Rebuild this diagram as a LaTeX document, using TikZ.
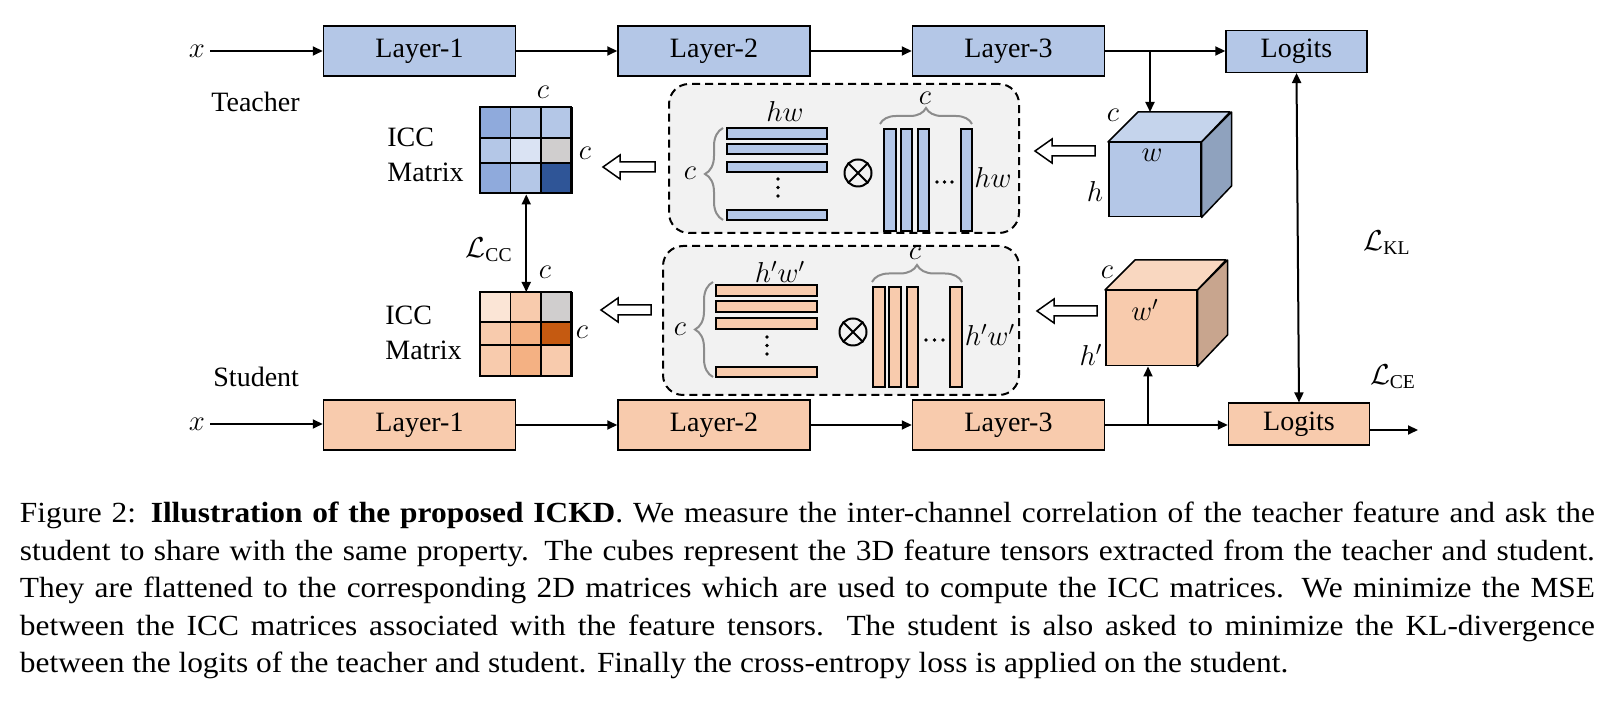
\documentclass[tikz,border=0pt]{standalone}
\usepackage{fontspec}
\setmainfont{Liberation Serif}
\newfontfamily\capfamily[FakeStretch=1.075]{Liberation Serif}
\usetikzlibrary{arrows.meta,decorations.pathreplacing,calc}
\definecolor{tblue}{HTML}{B4C7E7}
\definecolor{tdark}{HTML}{8FAADC}
\definecolor{tlight}{HTML}{DAE3F3}
\definecolor{tdeep}{HTML}{2F5597}
\definecolor{ttop}{HTML}{C5D4EC}
\definecolor{tside}{HTML}{8FA2BE}
\definecolor{cgray}{HTML}{D0CECE}
\definecolor{sor}{HTML}{F8CBAD}
\definecolor{slight}{HTML}{FBE5D6}
\definecolor{smid}{HTML}{F4B183}
\definecolor{sdeep}{HTML}{C55A11}
\definecolor{stop}{HTML}{F9D7C0}
\definecolor{sside}{HTML}{C8A58E}
\definecolor{boxfill}{HTML}{F2F2F2}
\definecolor{bracegray}{HTML}{8C8C8C}
\newcommand\dfont{\fontsize{14}{17.5}\selectfont}
\newcommand\cfont{\capfamily\fontsize{14.6}{18.75}\selectfont}
\newcommand\harrow[3]{%
  \draw[line width=0.75pt, fill=white, line join=miter]
    (#1,#2) -- (#1+17,#2-12) -- (#1+17,#2-5) -- (#3,#2-5) -- (#3,#2+5)
    -- (#1+17,#2+5) -- (#1+17,#2+12) -- cycle;}
\begin{document}
\begin{tikzpicture}[x=0.5pt,y=-0.5pt,
  arr/.style={line width=1pt, -{Triangle[length=5pt,width=4.5pt]}},
  arrtwo/.style={line width=1pt, {Triangle[length=5pt,width=4.5pt]}-{Triangle[length=5pt,width=4.5pt]}},
  layer/.style={draw, line width=0.75pt, minimum width=96pt, minimum height=25pt, inner sep=0pt, font=\dfont},
  logit/.style={draw, line width=0.75pt, minimum width=70.5pt, minimum height=20.8pt, inner sep=0pt, font=\dfont},
  lbl/.style={font=\dfont, inner sep=0pt},
  dbox/.style={draw, fill=boxfill, line width=1pt, dash pattern=on 4pt off 2.5pt, rounded corners=10pt, inner sep=0pt, anchor=north west},
  bar/.style={draw, line width=0.75pt},
  cell/.style={draw, line width=0.75pt},
  brc/.style={draw=bracegray, line width=1pt, decorate},
  otimes/.style={circle, draw, line width=1pt, minimum size=13.5pt, inner sep=0pt},
  cube/.style={draw, line width=0.75pt, inner sep=0pt, anchor=north west, minimum width=46pt, minimum height=37pt},
  capline/.style={anchor=base west, inner sep=0pt, font=\cfont}
]
\useasboundingbox (0,0) rectangle (1612,704);

% ---------------- Teacher row ----------------
\node[lbl] (xT) at (197,51) {$x$};
\node[layer, fill=tblue] (T1) at (419.5,51) {Layer-1};
\node[layer, fill=tblue] (T2) at (714,51) {Layer-2};
\node[layer, fill=tblue] (T3) at (1008.5,51) {Layer-3};
\node[logit, fill=tblue] (TL) at (1296.5,51.5) {Logits};
\node[lbl, anchor=base west] (teach) at (211,112) {Teacher};
\draw[arr] (xT) ++(13,0) -- (T1.west);
\draw[arr] (T1) -- (T2);
\draw[arr] (T2) -- (T3);
\draw[arr] (T3.east) -- (TL.west |- T3.east);

% ---------------- Student row ----------------
\node[lbl] (xS) at (197,424) {$x$};
\node[layer, fill=sor] (S1) at (419.5,425) {Layer-1};
\node[layer, fill=sor] (S2) at (714,425) {Layer-2};
\node[layer, fill=sor] (S3) at (1008.5,425) {Layer-3};
\node[logit, fill=sor] (SL) at (1299,424) {Logits};
\node[lbl, anchor=base west] (stud) at (213,387) {Student};
\draw[arr] (xS) ++(13,0) -- (S1.west |- xS);
\draw[arr] (S1) -- (S2);
\draw[arr] (S2) -- (S3);
\draw[arr] (S3.east) -- (SL.west |- S3.east);
\coordinate (out) at (1418,430);
\draw[arr] (SL.east |- out) -- (out);

% KL arrow
\draw[arrtwo] (TL.south) -- (SL.north);
\node[lbl] (LKL) at (1387,243) {$\mathcal{L}_{\mathrm{KL}}$};
\node[lbl] (LCE) at (1393,377) {$\mathcal{L}_{\mathrm{CE}}$};

% ---------------- Cubes ----------------
\node[cube, fill=tblue] (CT) at (1108,142) {};
\draw[line width=0.75pt, fill=ttop, line join=round] (CT.north west) -- ++(30,-30) -- ++(92,0) -- (CT.north east) -- cycle;
\draw[line width=0.75pt, fill=tside, line join=round] (CT.north east) -- ++(30,-30) -- ++(0,74) -- (CT.south east) -- cycle;
\node[lbl] (cTc) at (1113,115) {$c$};
\node[lbl] (cTw) at (1152,155) {$w$};
\node[lbl] (cTh) at (1095,192) {$h$};
\coordinate (bT) at (1150,51);
\coordinate (CTtop) at (1150,112);
\draw[arr] (bT) -- (CTtop);

\node[cube, fill=sor, minimum width=45.5pt, minimum height=37.5pt] (CS) at (1105,290) {};
\draw[line width=0.75pt, fill=stop, line join=round] (CS.north west) -- ++(30,-30) -- ++(91,0) -- (CS.north east) -- cycle;
\draw[line width=0.75pt, fill=sside, line join=round] (CS.north east) -- ++(30,-30) -- ++(0,75) -- (CS.south east) -- cycle;
\node[lbl] (cSc) at (1107,272) {$c$};
\node[lbl] (cSw) at (1145,310) {$w'$};
\node[lbl] (cSh) at (1091,355) {$h'$};
\coordinate (bS) at (1148,425);
\draw[arr] (bS) -- (bS |- CS.south);

% ---------------- Teacher dashed box ----------------
\node[dbox, minimum width=175pt, minimum height=74.5pt] (DT) at (668,83) {};
\foreach \ya/\yb in {128/139,144/154,162/172,210/220}
  \draw[bar, fill=tblue] (727,\ya) rectangle (827,\yb);
\foreach \yy in {179,187.5,196} \fill (778,\yy) circle (0.9pt);
\node[lbl] (hwT) at (785,112) {$hw$};
\draw[brc, decoration={brace, amplitude=9pt}] (723,220) -- (723,128);
\node[lbl] (cTl) at (690,173) {$c$};
\node[otimes] (oT) at (858,173) {};
\draw[line width=1pt] (oT.north east) -- (oT.south west) (oT.north west) -- (oT.south east);
\foreach \xa/\xb in {884/896,901/912,918/929,961/972}
  \draw[bar, fill=tblue] (\xa,129) rectangle (\xb,231);
\foreach \xx in {937,944.5,952} \fill (\xx,182) circle (0.9pt);
\node[lbl] (hwTr) at (993,178) {$hw$};
\draw[brc, decoration={brace, amplitude=8pt}] (880,124) -- (972,124);
\node[lbl] (cTt) at (925,98) {$c$};

% ---------------- Student dashed box ----------------
\node[dbox, minimum width=178pt, minimum height=74.5pt] (DS) at (662,245) {};
\foreach \ya/\yb in {285/296,301/312,318/329,367/377}
  \draw[bar, fill=sor] (716,\ya) rectangle (817,\yb);
\foreach \yy in {337,345.5,354} \fill (767,\yy) circle (0.9pt);
\node[lbl] (hwS) at (780,272) {$h'w'$};
\draw[brc, decoration={brace, amplitude=9pt}] (713,377) -- (713,282);
\node[lbl] (cSl) at (680,329) {$c$};
\node[otimes] (oS) at (853,332) {};
\draw[line width=1pt] (oS.north east) -- (oS.south west) (oS.north west) -- (oS.south east);
\foreach \xa/\xb in {873/885,889/901,907/918,950/962}
  \draw[bar, fill=sor] (\xa,287) rectangle (\xb,387);
\foreach \xx in {926,934.5,943} \fill (\xx,340) circle (0.9pt);
\node[lbl] (hwSr) at (990,335) {$h'w'$};
\draw[brc, decoration={brace, amplitude=8.5pt}] (872,282) -- (962,282);
\node[lbl] (cSt) at (915,253) {$c$};

% ---------------- ICC matrices ----------------
\node[draw, line width=0.75pt, minimum width=45.5pt, minimum height=43pt, inner sep=0pt, anchor=north west] (MT) at (480,107) {};
\draw[cell, fill=tdark]  (480,107) rectangle (510.5,138);
\draw[cell, fill=tblue]  (510.5,107) rectangle (541,138);
\draw[cell, fill=tblue]  (541,107) rectangle (571,138);
\draw[cell, fill=tblue]  (480,138) rectangle (510.5,163);
\draw[cell, fill=tlight] (510.5,138) rectangle (541,163);
\draw[cell, fill=cgray]  (541,138) rectangle (571,163);
\draw[cell, fill=tdark]  (480,163) rectangle (510.5,193);
\draw[cell, fill=tblue]  (510.5,163) rectangle (541,193);
\draw[cell, fill=tdeep]  (541,163) rectangle (571,193);
\node[lbl] (MTc1) at (543,92) {$c$};
\node[lbl] (MTc2) at (585,153) {$c$};
\node[lbl, anchor=west, align=left] (MTl) at (387,155) {ICC\\Matrix};

\node[draw, line width=0.75pt, minimum width=45.5pt, minimum height=42pt, inner sep=0pt, anchor=north west] (MS) at (480,292) {};
\draw[cell, fill=slight] (480,292) rectangle (510.5,322);
\draw[cell, fill=sor]    (510.5,292) rectangle (541,322);
\draw[cell, fill=cgray]  (541,292) rectangle (571,322);
\draw[cell, fill=sor]    (480,322) rectangle (510.5,345);
\draw[cell, fill=smid]   (510.5,322) rectangle (541,345);
\draw[cell, fill=sdeep]  (541,322) rectangle (571,345);
\draw[cell, fill=sor]    (480,345) rectangle (510.5,376);
\draw[cell, fill=smid]   (510.5,345) rectangle (541,376);
\draw[cell, fill=sor]    (541,345) rectangle (571,376);
\node[lbl] (MSc2) at (582,332) {$c$};
\node[lbl, anchor=west, align=left] (MSl) at (385,333) {ICC\\Matrix};

% LCC
\draw[arrtwo] (MT.south) -- (MS.north);
\node[lbl, anchor=east] (LCC) at (513,250) {$\mathcal{L}_{\mathrm{CC}}$};
\node[lbl] (MSc1) at (545,272) {$c$};

% hollow arrows
\harrow{603}{167}{655}
\harrow{601}{310}{651}
\harrow{1035}{151}{1095}
\harrow{1037}{311}{1097}

% ---------------- Caption ----------------
\node[capline] (cap1) at (19.5,523) {\makebox[787.5pt][s]{Figure 2: \textbf{Illustration of the proposed ICKD}. We measure the inter-channel correlation of the teacher feature and ask the}};
\node[capline] (cap2) at (19.5,560.5) {\makebox[787.5pt][s]{student to share with the same property. The cubes represent the 3D feature tensors extracted from the teacher and student.}};
\node[capline] (cap3) at (19.5,598) {\makebox[787.5pt][s]{They are flattened to the corresponding 2D matrices which are used to compute the ICC matrices. We minimize the MSE}};
\node[capline] (cap4) at (19.5,635.5) {\makebox[787.5pt][s]{between the ICC matrices associated with the feature tensors. The student is also asked to minimize the KL-divergence}};
\node[capline] (cap5) at (19.5,673) {between the logits of the teacher and student. Finally the cross-entropy loss is applied on the student.};
\end{tikzpicture}
\end{document}
